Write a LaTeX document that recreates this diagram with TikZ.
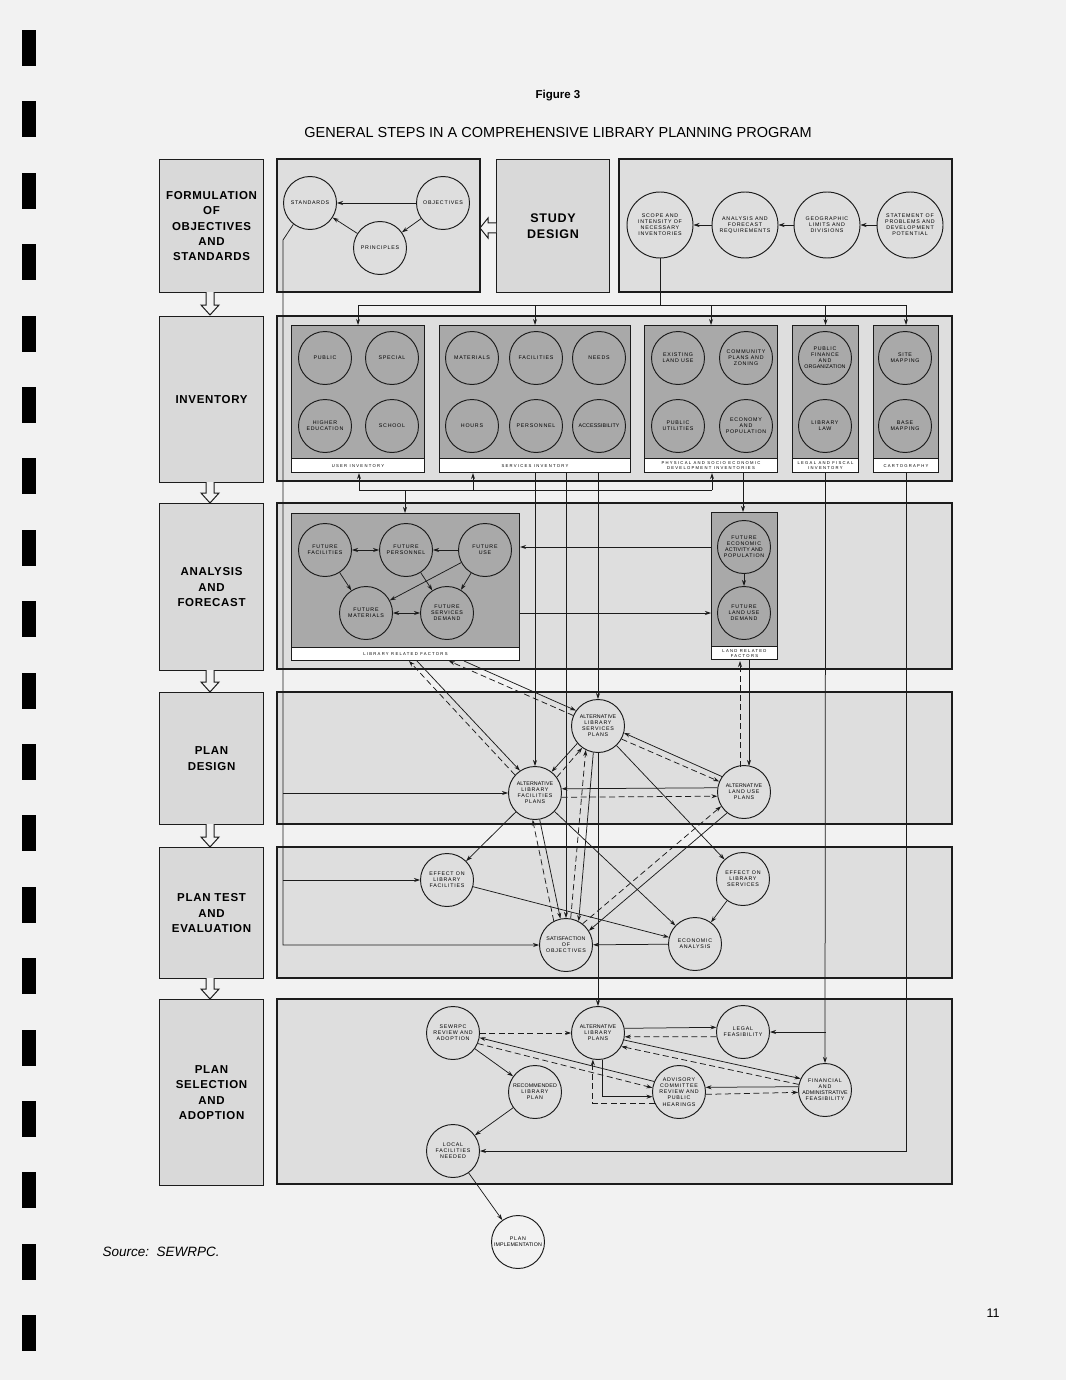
\documentclass[tikz,border=0pt]{standalone}
\usepackage{fontspec}
\setmainfont{Liberation Sans}
\newfontfamily\cfont[LetterSpace=14]{Liberation Sans}
\newfontfamily\lfont[LetterSpace=6]{Liberation Sans}
\newfontfamily\sfont[LetterSpace=30]{Liberation Sans}
\usetikzlibrary{arrows.meta,calc}
\definecolor{pagebg}{HTML}{F2F2F2}
\definecolor{panelc}{HTML}{DEDEDE}
\definecolor{stepc}{HTML}{D9D9D9}
\definecolor{darkc}{HTML}{A9A9A9}
\definecolor{inkc}{HTML}{1C1C1C}
\newcommand\ct[1]{\makebox[0pt]{\smash{\raisebox{-1.6pt}{\begin{tabular}{@{}c@{}}#1\end{tabular}}}}}
\newcommand\tight{\addfontfeatures{LetterSpace=2}}
\tikzset{
  cir/.style={circle, draw=inkc, line width=0.95pt, minimum size=53pt, inner sep=0pt, font=\cfont\fontsize{5.3}{6.2}\selectfont},
  bigcir/.style={cir, minimum size=66pt},
  panel/.style={draw=inkc, line width=1.1pt, fill=panelc},
  subbox/.style={draw=inkc, line width=1.1pt, fill=darkc, anchor=north west, minimum height=147pt, inner sep=0pt},
  strip/.style={draw=inkc, line width=0.9pt, fill=white, anchor=south west, inner sep=0pt, font=\sfont\fontsize{4.2}{5}\selectfont, align=center},
  stepbox/.style={draw=inkc, line width=1.1pt, fill=stepc, anchor=north west, inner sep=0pt, minimum width=104pt, align=center, font=\lfont\bfseries\fontsize{11.5}{15.3}\selectfont},
  ln/.style={draw=inkc, line width=0.75pt},
  arr/.style={ln, -{Stealth[length=6pt,width=4pt]}},
  darr/.style={arr, dash pattern=on 6pt off 3.5pt},
  dbl/.style={ln, {Stealth[length=6pt,width=4pt]}-{Stealth[length=6pt,width=4pt]}},
  hollow/.style={draw=inkc, line width=1pt, fill=pagebg, line join=miter},
}
\begin{document}
\begin{tikzpicture}[x=1pt,y=-1pt]
\useasboundingbox (0,0) rectangle (1066,1380);
\fill[pagebg] (0,0) rectangle (1066,1380);
% binder marks
\foreach \i in {0,...,18} \fill[black] (22,{30+71.4*\i}) rectangle (36,{66+71.4*\i});
% titles
\node[font=\bfseries\fontsize{11.5}{14}\selectfont] (fig) at (558,96) {Figure 3};
\node[font=\fontsize{14.5}{16}\selectfont] (ttl) at (558,133) {GENERAL STEPS IN A COMPREHENSIVE LIBRARY PLANNING PROGRAM};
\node[font=\itshape\fontsize{13.5}{15}\selectfont, anchor=west] (src) at (99,1252) {Source:\ \ SEWRPC.};
\node[font=\fontsize{12.5}{14}\selectfont] (pg) at (993,1313) {11};
% panels
\draw[panel] (277,159) rectangle (480,292);
\draw[panel] (619,159) rectangle (952,292);
\draw[panel] (277,316) rectangle (952,481);
\draw[panel] (277,503) rectangle (952,669);
\draw[panel] (277,692) rectangle (952,824);
\draw[panel] (277,847) rectangle (952,978);
\draw[panel] (277,999) rectangle (952,1184);
% step boxes
\node[stepbox, minimum height=133pt] (s1) at (159,159) {FORMULATION\\OF\\OBJECTIVES\\AND\\STANDARDS};
\node[stepbox, minimum height=166pt] (s2) at (159,316) {INVENTORY};
\node[stepbox, minimum height=167pt] (s3) at (159,503) {ANALYSIS\\AND\\FORECAST};
\node[stepbox, minimum height=132pt] (s4) at (159,692) {PLAN\\DESIGN};
\node[stepbox, minimum height=131pt] (s5) at (159,847) {PLAN TEST\\AND\\EVALUATION};
\node[stepbox, minimum height=186pt] (s6) at (159,999) {PLAN\\SELECTION\\AND\\ADOPTION};
\node[stepbox, minimum width=113pt, minimum height=133pt, font=\lfont\bfseries\fontsize{12.5}{16}\selectfont] (sd) at (496,159) {STUDY\\DESIGN};
% hollow arrows
\foreach \a/\b in {292/315, 482/503, 670/692, 824/847, 978/999}
  \draw[hollow] (206,\a) -- (206,{\b-10}) -- (201,{\b-10}) -- (210,\b) -- (219,{\b-10}) -- (214,{\b-10}) -- (214,\a);
\draw[hollow] (496,223) -- (488,223) -- (488,218) -- (480,228) -- (488,238) -- (488,233) -- (496,233);
% sub boxes
\node[subbox, minimum width=133pt] (ui) at (291,325) {};
\node[strip, minimum width=133pt, minimum height=14pt] (uil) at (ui.south west) {USER INVENTORY};
\node[subbox, minimum width=191pt] (si) at (439,325) {};
\node[strip, minimum width=191pt, minimum height=14pt] (sil) at (si.south west) {SERVICES INVENTORY};
\node[subbox, minimum width=133pt] (pi) at (644,325) {};
\node[strip, minimum width=133pt, minimum height=14pt] (pil) at (pi.south west) {PHYSICAL AND SOCIO ECONOMIC\\DEVELOPMENT INVENTORIES};
\node[subbox, minimum width=66pt] (li) at (792,325) {};
\node[strip, minimum width=66pt, minimum height=14pt] (lil) at (li.south west) {LEGAL AND FISCAL\\INVENTORY};
\node[subbox, minimum width=65pt] (ci) at (873,325) {};
\node[strip, minimum width=65pt, minimum height=14pt] (cil) at (ci.south west) {CARTOGRAPHY};
\node[subbox, minimum width=228pt] (lib) at (291,513) {};
\node[strip, minimum width=228pt, minimum height=13pt] (libl) at (lib.south west) {LIBRARY RELATED FACTORS};
\node[subbox, minimum width=66pt] (land) at (711,512) {};
\node[strip, minimum width=66pt, minimum height=13pt] (landl) at (land.south west) {LAND RELATED\\FACTORS};
% circles: formulation
\node[cir] (std) at (310,203) {\ct{STANDARDS}};
\node[cir] (obj) at (443,203) {\ct{OBJECTIVES}};
\node[cir] (pri) at (380,248) {\ct{PRINCIPLES}};
\node[bigcir] (scope) at (660,225) {\ct{SCOPE AND\\INTENSITY OF\\NECESSARY\\INVENTORIES}};
\node[bigcir] (anf) at (745,225) {\ct{ANALYSIS AND\\FORECAST\\REQUIREMENTS}};
\node[bigcir] (geo) at (827,225) {\ct{GEOGRAPHIC\\LIMITS AND\\DIVISIONS}};
\node[bigcir] (stmt) at (910,225) {\ct{STATEMENT OF\\PROBLEMS AND\\DEVELOPMENT\\POTENTIAL}};
% inventory
\node[cir] (pub) at (325,358) {\ct{PUBLIC}};
\node[cir] (spe) at (392,358) {\ct{SPECIAL}};
\node[cir] (hed) at (325,426) {\ct{HIGHER\\EDUCATION}};
\node[cir] (sch) at (392,426) {\ct{SCHOOL}};
\node[cir] (mat) at (472,358) {\ct{MATERIALS}};
\node[cir] (fac) at (536,358) {\ct{FACILITIES}};
\node[cir] (nee) at (599,358) {\ct{NEEDS}};
\node[cir] (hou) at (472,426) {\ct{HOURS}};
\node[cir] (per) at (536,426) {\ct{PERSONNEL}};
\node[cir] (acc) at (599,426) {\ct{\tight ACCESSIBILITY}};
\node[cir] (elu) at (678,358) {\ct{EXISTING\\LAND USE}};
\node[cir] (cpz) at (746,358) {\ct{COMMUNITY\\PLANS AND\\ZONING}};
\node[cir] (put) at (678,426) {\ct{PUBLIC\\UTILITIES}};
\node[cir] (ecp) at (746,426) {\ct{ECONOMY\\AND\\POPULATION}};
\node[cir] (pfo) at (825,358) {\ct{PUBLIC\\FINANCE\\AND\\{\tight ORGANIZATION}}};
\node[cir] (lla) at (825,426) {\ct{LIBRARY\\LAW}};
\node[cir] (sma) at (905,358) {\ct{SITE\\MAPPING}};
\node[cir] (bma) at (905,426) {\ct{BASE\\MAPPING}};
% analysis
\node[cir] (ff) at (325,550) {\ct{FUTURE\\FACILITIES}};
\node[cir] (fp) at (406,550) {\ct{FUTURE\\PERSONNEL}};
\node[cir] (fu) at (485,550) {\ct{FUTURE\\USE}};
\node[cir] (fm) at (366,613) {\ct{FUTURE\\MATERIALS}};
\node[cir] (fsd) at (447,613) {\ct{FUTURE\\SERVICES\\DEMAND}};
\node[cir] (fea) at (744,547) {\ct{FUTURE\\ECONOMIC\\{\tight ACTIVITY AND}\\POPULATION}};
\node[cir] (flu) at (744,613) {\ct{FUTURE\\LAND USE\\DEMAND}};
% plan design
\node[cir] (alsp) at (598,726) {\ct{{\tight ALTERNATIVE}\\LIBRARY\\SERVICES\\PLANS}};
\node[cir] (alfp) at (535,793) {\ct{{\tight ALTERNATIVE}\\LIBRARY\\FACILITIES\\PLANS}};
\node[cir] (alup) at (744,792) {\ct{{\tight ALTERNATIVE}\\LAND USE\\PLANS}};
% plan test
\node[cir] (elf) at (447,880) {\ct{EFFECT ON\\LIBRARY\\FACILITIES}};
\node[cir] (sat) at (566,945) {\ct{{\tight SATISFACTION}\\OF\\OBJECTIVES}};
\node[cir] (els) at (743,879) {\ct{EFFECT ON\\LIBRARY\\SERVICES}};
\node[cir] (eco) at (695,944) {\ct{ECONOMIC\\ANALYSIS}};
% plan selection
\node[cir] (sew) at (453,1033) {\ct{SEWRPC\\REVIEW AND\\ADOPTION}};
\node[cir] (alp) at (598,1033) {\ct{{\tight ALTERNATIVE}\\LIBRARY\\PLANS}};
\node[cir] (rec) at (535,1092) {\ct{{\tight RECOMMENDED}\\LIBRARY\\PLAN}};
\node[cir] (loc) at (453,1151) {\ct{LOCAL\\FACILITIES\\NEEDED}};
\node[cir] (legal) at (743,1032) {\ct{LEGAL\\FEASIBILITY}};
\node[cir] (adv) at (679,1092) {\ct{ADVISORY\\COMMITTEE\\REVIEW AND\\PUBLIC\\HEARINGS}};
\node[cir] (fin) at (825,1090) {\ct{FINANCIAL\\AND\\{\tight ADMINISTRATIVE}\\FEASIBILITY}};
\node[cir] (impl) at (518,1242) {\ct{PLAN\\{\tight IMPLEMENTATION}}};
% ---------- connectors ----------
\draw[arr] (obj) -- (std);
\draw[arr] (obj) -- (pri);
\draw[arr] (pri) -- (std);
\draw[arr] (anf) -- (scope);
\draw[arr] (geo) -- (anf);
\draw[arr] (stmt) -- (geo);
\coordinate (dy) at (0,305);
\draw[ln] (scope.south) -- (scope.south |- dy);
\draw[ln] (ui.north |- dy) -- (ci.north |- dy);
\foreach \n in {ui,si,pi,li,ci} \draw[arr] (\n.north |- dy) -- (\n.north);
% standards line
\coordinate (L) at (283,240);
\draw[arr] (std.-128) -- (L) |- (sat.west);
\draw[arr] (L |- alfp.west) -- (alfp.west);
\draw[arr] (L |- elf.west) -- (elf.west);
% inventory to analysis
\coordinate (c1) at (359,490);
\coordinate (c2) at (473,490);
\coordinate (c3) at (405,490);
\coordinate (c4) at (712,490);
\draw[ln] (c1) -- (c4);
\draw[arr] (c1) -- (c1 |- ui.south);
\draw[arr] (c2) -- (c2 |- si.south);
\draw[arr] (c4) -- (c4 |- pi.south);
\draw[arr] (c3) -- (c3 |- lib.north);
\coordinate (c5) at (743,472);
\draw[arr] (c5) -- (c5 |- land.north);
\draw[arr] (alfp.north |- si.south) -- (alfp.north);
\draw[arr] (sat.north |- si.south) -- (sat.north);
\draw[arr] (alsp.north |- si.south) -- (alsp.north);
\draw[arr] (li.south) -- (fin.north);
\draw[arr] (li.south |- legal.east) -- (legal.east);
\draw[arr] (ci.south) |- (loc.east);
% analysis internal
\draw[dbl] (ff) -- (fp);
\draw[arr] (fu) -- (fp);
\draw[arr] (ff) -- (fm);
\draw[arr] (fp) -- (fsd);
\draw[arr] (fu) -- (fm);
\draw[arr] (fu) -- (fsd);
\draw[dbl] (fm) -- (fsd);
\draw[arr] (fea) -- (flu);
\draw[arr] (land.west |- fea) -- (lib.east |- fea);
\draw[arr] (lib.east |- flu) -- (land.west |- flu);
% analysis to plan design
\coordinate (lb1) at (409,661);
\coordinate (lb2) at (417,661);
\coordinate (lb3) at (449,661);
\coordinate (lb4) at (464,661);
\draw[arr] (lb2) -- (alfp.124);
\draw[darr] (alfp.138) -- (lb1);
\draw[arr] (lb4) -- (alsp.145);
\draw[darr] (alsp.157) -- (lb3);
\coordinate (la1) at (749,659);
\coordinate (la2) at (740,661);
\coordinate (la3) at (749,766);
\coordinate (la4) at (740,767);
\draw[arr] (la1) -- (la3);
\draw[darr] (la4) -- (la2);
% plan design internal
\draw[arr] (alsp.-140) -- (alfp.52);
\draw[darr] (alfp.36) -- (alsp.-126);
\draw[arr] (alup.145) -- (alsp.-15);
\draw[darr] (alsp.-29) -- (alup.157);
\draw[arr] (alup.171) -- (alfp.9);
\draw[darr] (alfp.-9) -- (alup.-171);
\draw[arr] (alfp.-80) -- (sat.102);
\draw[darr] (sat.117) -- (alfp.-95);
\draw[arr] (alsp.-100) -- (sat.62);
\draw[darr] (sat.80) -- (alsp.-117);
\draw[arr] (alup.-129) -- (sat.32);
\draw[darr] (sat.52) -- (alup.-148);
\draw[arr] (alsp) -- (els);
\draw[arr] (alfp) -- (eco);
\draw[arr] (alfp) -- (elf);
\draw[arr] (elf) -- (eco);
\draw[arr] (els) -- (eco);
\draw[arr] (eco) -- (sat);
\draw[arr] (alsp.south) -- (alp.north);
% plan selection
\draw[darr] (sew) -- (alp);
\draw[arr] (alp.10) -- (legal.170);
\draw[darr] (legal.-170) -- (alp.-8);
\draw[arr] (alp.-15) -- (fin.155);
\draw[darr] (fin.168) -- (alp.-30);
\draw[arr] (fin.173) -- (adv.10);
\draw[darr] (adv.-5) -- (fin.-175);
\draw[arr] (adv.157) -- (sew.-10);
\draw[darr] (sew.-23) -- (adv.171);
\draw[arr] (alp.-80) |- (adv.-170);
\draw[darr] (adv.-155) -| (alp.-101);
\draw[arr] (sew) -- (rec);
\draw[arr] (rec) -- (loc);
\draw[arr] (loc) -- (impl);
\end{tikzpicture}
\end{document}
